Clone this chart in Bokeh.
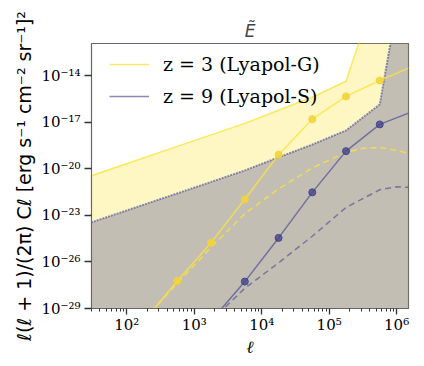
from bokeh.plotting import figure
from bokeh.models import Range1d, FixedTicker, Legend, LegendItem
from bokeh.embed import file_html
from bokeh.resources import INLINE

# ---------------- data ----------------
# bin centres (multipoles) where markers sit
ell_bins = [562, 1778, 5623, 17783, 56234, 177828, 562341]

# z = 3 (Lyapol-G): solid model with markers
z3_line_ell = [178, 562, 1778, 5623, 17783, 56234, 177828, 562341, 1.5e6]
z3_line_val = [1.5e-30, 5.9e-28, 1.74e-25, 1.07e-22, 7.9e-20, 1.55e-17, 4.5e-16, 4.8e-15, 3.0e-14]
z3_mark_val = [5.9e-28, 1.74e-25, 1.07e-22, 7.9e-20, 1.55e-17, 4.5e-16, 4.8e-15]

# z = 3 dashed curve
z3_dash_ell = [178, 562, 1778, 5623, 17783, 56234, 177828, 316228, 562341, 1.0e6, 1.5e6]
z3_dash_val = [2.0e-30, 4.3e-28, 8.7e-26, 1.29e-23, 5.0e-22, 1.12e-20, 1.12e-19, 2.04e-19, 2.34e-19, 1.5e-19, 9.5e-20]

# z = 9 (Lyapol-S): solid model with markers
z9_line_ell = [1778, 5623, 17783, 56234, 177828, 562341, 1.5e6]
z9_line_val = [1.6e-30, 5.4e-28, 3.5e-25, 3.0e-22, 1.35e-19, 7.1e-18, 3.8e-17]
z9_mark_ell = [5623, 17783, 56234, 177828, 562341]
z9_mark_val = [5.4e-28, 3.5e-25, 3.0e-22, 1.35e-19, 7.1e-18]

# z = 9 dashed curve
z9_dash_ell = [1778, 5623, 17783, 56234, 177828, 562341, 1.0e6, 1.5e6]
z9_dash_val = [1.6e-30, 2.0e-28, 8.7e-27, 4.5e-25, 3.2e-23, 4.4e-22, 6.8e-22, 6.3e-22]

# shaded noise bands (upper edges)
band_ell = [20, 562, 1778, 5623, 17783, 56234, 177828, 562341, 1778279]
band_z3_upper = [1.95e-21, 2.75e-19, 1.5e-18, 8.3e-18, 5.8e-17, 4.0e-16, 4.3e-15, 1.3e-8, 1e-2]
band_z9_upper = [1.95e-24, 2.6e-22, 1.41e-21, 7.8e-21, 5.4e-20, 3.6e-19, 2.9e-18, 1.38e-16, 4e-4]
band_floor = 1e-31

# axes
x_ticks = [1e2, 1e3, 1e4, 1e5, 1e6]
x_labels = ["10²", "10³", "10⁴", "10⁵", "10⁶"]
x_minor = [k * 10.0 ** n for n in range(1, 7) for k in range(2, 10)]
y_ticks = [1e-29, 1e-26, 1e-23, 1e-20, 1e-17, 1e-14]
y_labels = ["10⁻²⁹", "10⁻²⁶", "10⁻²³", "10⁻²⁰", "10⁻¹⁷", "10⁻¹⁴"]

labels = ["z = 3 (Lyapol-G)", "z = 9 (Lyapol-S)"]

YEL = "#fde43a"
PUR = "#3b3b8f"

# ---------------- figure ----------------
p = figure(width=416, height=366, x_axis_type="log", y_axis_type="log",
           x_range=Range1d(30, 1.5e6), y_range=Range1d(1e-29, 1.15e-12),
           output_backend="svg", toolbar_location=None,
           min_border_left=91, min_border_right=8, min_border_top=43, min_border_bottom=58)
p.grid.visible = False
p.outline_line_color = "#666666"
p.outline_line_width = 1.2

p.title.text = "Ẽ"
p.title.align = "center"
p.title.text_font = "DejaVu Sans"
p.title.text_font_style = "italic"
p.title.text_font_size = "17px"
p.title.standoff = 5

# bands
p.varea(x=band_ell, y1=[band_floor] * len(band_ell), y2=band_z3_upper, fill_color=YEL, fill_alpha=0.3)
p.varea(x=band_ell, y1=[band_floor] * len(band_ell), y2=band_z9_upper, fill_color=PUR, fill_alpha=0.3)
p.line(band_ell, band_z3_upper, line_color=YEL, line_alpha=0.8, line_width=1.5)
p.line(band_ell, band_z9_upper, line_color=PUR, line_alpha=0.55, line_width=2, line_dash="2 1")

# dashed curves
p.line(z3_dash_ell, z3_dash_val, line_color=YEL, line_alpha=0.8, line_width=1.5, line_dash="6 4")
p.line(z9_dash_ell, z9_dash_val, line_color=PUR, line_alpha=0.55, line_width=1.5, line_dash="6 4")

# solid curves with markers
r3 = p.line(z3_line_ell, z3_line_val, line_color=YEL, line_alpha=0.8, line_width=1.5)
r9 = p.line(z9_line_ell, z9_line_val, line_color=PUR, line_alpha=0.6, line_width=1.5)
p.scatter(ell_bins, z3_mark_val, size=7, fill_color="#f2d43a", line_color="#f2d43a", fill_alpha=0.9)
p.scatter(z9_mark_ell, z9_mark_val, size=7, fill_color="#45458f", line_color="#45458f", fill_alpha=0.8)

# axes
p.xaxis.ticker = FixedTicker(ticks=x_ticks, minor_ticks=x_minor)
p.xaxis.major_label_overrides = dict(zip(x_ticks, x_labels))
p.yaxis.ticker = FixedTicker(ticks=y_ticks, minor_ticks=[])
p.yaxis.major_label_overrides = dict(zip(y_ticks, y_labels))

for ax in (p.xaxis[0], p.yaxis[0]):
    ax.major_label_text_font = "DejaVu Serif"
    ax.major_label_text_font_size = "15px"
    ax.major_label_text_color = "black"
    ax.axis_line_color = "#666666"
    ax.major_tick_line_color = "#333333"
    ax.minor_tick_line_color = "#333333"
    ax.major_tick_line_width = 1.3
    ax.major_tick_in = 0
    ax.minor_tick_in = 0
    ax.axis_label_text_color = "black"

p.xaxis.major_tick_out = 6
p.xaxis.minor_tick_out = 3
p.yaxis.major_tick_out = 7
p.xaxis.major_label_standoff = 1
p.yaxis.major_label_standoff = 4

p.xaxis.axis_label = "ℓ"
p.xaxis.axis_label_text_font = "DejaVu Serif"
p.xaxis.axis_label_text_font_style = "italic"
p.xaxis.axis_label_text_font_size = "17px"
p.xaxis.axis_label_standoff = 0

p.yaxis.axis_label = "ℓ(ℓ + 1)/(2π) Cℓ [erg s⁻¹ cm⁻² sr⁻¹]²"
p.yaxis.axis_label_text_font = "DejaVu Sans"
p.yaxis.axis_label_text_font_style = "normal"
p.yaxis.axis_label_text_font_size = "19px"
p.yaxis.axis_label_standoff = 3

legend = Legend(items=[LegendItem(label=labels[0], renderers=[r3]),
                       LegendItem(label=labels[1], renderers=[r9])],
                location=(6, 189))
legend.background_fill_alpha = 0
legend.border_line_alpha = 0
legend.margin = 0
legend.padding = 12
legend.glyph_width = 40
legend.glyph_height = 20
legend.label_height = 20
legend.spacing = 10
legend.label_standoff = 14
legend.label_text_font = "DejaVu Serif"
legend.label_text_font_size = "19px"
legend.label_text_color = "black"
p.add_layout(legend)

open("out.html", "w").write(file_html(p, INLINE))
